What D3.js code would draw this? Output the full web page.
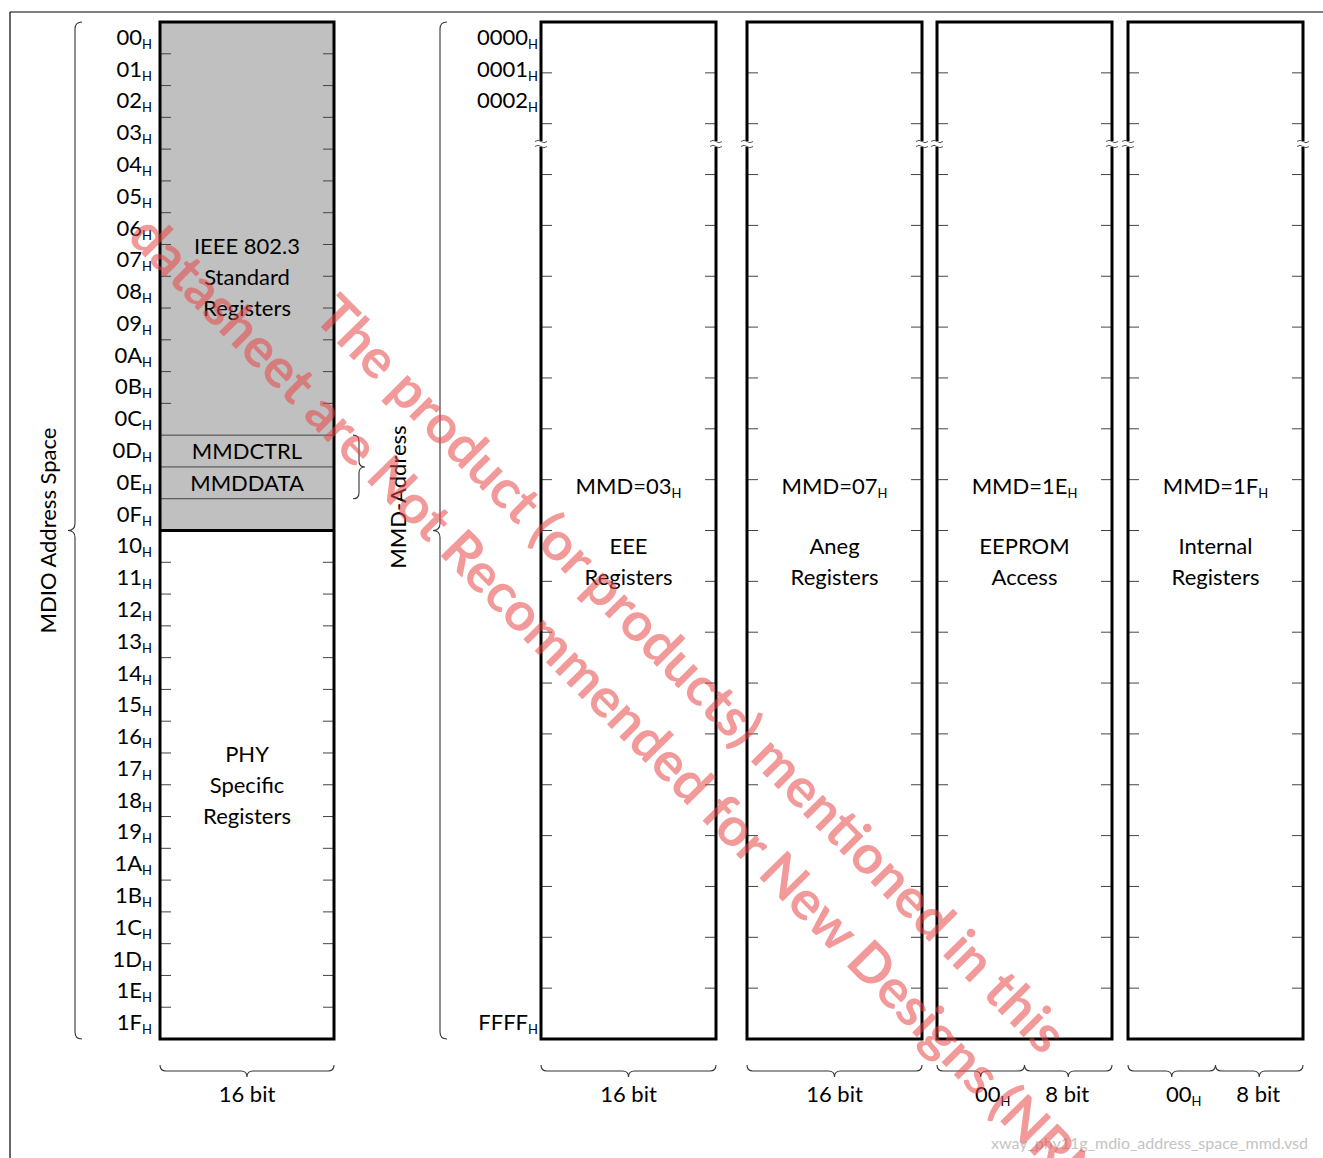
<!DOCTYPE html>
<html><head><meta charset="utf-8">
<script src="https://cdn.jsdelivr.net/npm/d3@7"></script>
<style>body{margin:0;background:#fff} svg{display:block} text{font-family:Lato,"Open Sans",sans-serif;fill:#000}</style>
</head><body>
<svg id="c" width="1323" height="1158"></svg>
<script>
// ---------- data ----------
const mdioRegs = d3.range(32).map(i => i.toString(16).toUpperCase().padStart(2, "0"));
const ieeeRows = 16;                       // rows 00..0F are IEEE standard (gray)
const mmdAccessRows = [{row: 13, label: "MMDCTRL"}, {row: 14, label: "MMDDATA"}];
const ieeeLines = ["IEEE 802.3", "Standard", "Registers"];
const phyLines = ["PHY", "Specific", "Registers"];
const mmdAddrFirst = ["0000", "0001", "0002"];
const mmdAddrLast = "FFFF";
const mmdIds = ["03", "07", "1E", "1F"];
const mmdDesc = [["EEE", "Registers"], ["Aneg", "Registers"], ["EEPROM", "Access"], ["Internal", "Registers"]];
const mmdWidths = [["16 bit"], ["16 bit"], ["00", "8 bit"], ["00", "8 bit"]];
const mdioWidth = "16 bit";
const mmdSegments = 20;
const footer = "xway_phy11g_mdio_address_space_mmd.vsd";
const watermark = ["The product (or products) mentioned in this", "datasheet are Not Recommended for New Designs (NRND)"];

(function () {
// ---------- layout ----------
const svg = d3.select("#c");
const yTop = 22, yBot = 1039;
const yReg = d3.scaleLinear().domain([0, mdioRegs.length]).range([yTop, yBot]);
const yMmd = d3.scaleLinear().domain([0, mmdSegments]).range([yTop, yBot]);
const blockW = 175;
const mdioX = 160;
const mmdX = d3.scaleOrdinal().domain(mmdIds).range([541, 747, 937, 1128]);
const FS = 22, SUB = 13;

function subText(g, x, y, main, sub, anchor) {
  const t = g.append("text").attr("x", x).attr("y", y).attr("text-anchor", anchor).attr("font-size", FS);
  t.append("tspan").text(main);
  if (sub) t.append("tspan").attr("font-size", SUB).attr("dy", 4).text(sub);
  return t;
}
function vBrace(x, y0, y1, dir, c) {
  const ym = (y0 + y1) / 2;
  return `M${x - dir * c},${y0} Q${x},${y0} ${x},${y0 + c} L${x},${ym - c} Q${x},${ym} ${x + dir * c},${ym} Q${x},${ym} ${x},${ym + c} L${x},${y1 - c} Q${x},${y1} ${x - dir * c},${y1}`;
}
function hBrace(x0, x1, y, c) {
  const xm = (x0 + x1) / 2;
  return `M${x0},${y - c} Q${x0},${y} ${x0 + c},${y} L${xm - c},${y} Q${xm},${y} ${xm},${y + c} Q${xm},${y} ${xm + c},${y} L${x1 - c},${y} Q${x1},${y} ${x1},${y - c}`;
}
const braceStyle = p => p.attr("fill", "none").attr("stroke", "#333").attr("stroke-width", 1.1);

// frame
svg.append("line").attr("x1", 10).attr("x2", 1323).attr("y1", 12).attr("y2", 12).attr("stroke", "#000").attr("stroke-width", 1.2);
svg.append("line").attr("x1", 10).attr("x2", 10).attr("y1", 12).attr("y2", 1158).attr("stroke", "#000").attr("stroke-width", 1.2);

// ---------- MDIO block ----------
const gL = svg.append("g");
gL.append("rect").attr("x", mdioX).attr("y", yReg(0)).attr("width", blockW - 1).attr("height", yReg(ieeeRows) - yReg(0)).attr("fill", "#c0c0c0");
const accessBounds = new Set();
mmdAccessRows.forEach(d => { accessBounds.add(d.row); accessBounds.add(d.row + 1); });
d3.range(1, mdioRegs.length).forEach(i => {
  const y = yReg(i);
  if (i === ieeeRows) return;
  if (accessBounds.has(i)) {
    gL.append("line").attr("x1", mdioX).attr("x2", mdioX + blockW - 1).attr("y1", y).attr("y2", y).attr("stroke", "#444").attr("stroke-width", 1);
  } else {
    gL.append("line").attr("x1", mdioX).attr("x2", mdioX + 11).attr("y1", y).attr("y2", y).attr("stroke", "#444").attr("stroke-width", 1);
    gL.append("line").attr("x1", mdioX + blockW - 12).attr("x2", mdioX + blockW - 1).attr("y1", y).attr("y2", y).attr("stroke", "#444").attr("stroke-width", 1);
  }
});
gL.append("line").attr("x1", mdioX).attr("x2", mdioX + blockW - 1).attr("y1", yReg(ieeeRows)).attr("y2", yReg(ieeeRows)).attr("stroke", "#000").attr("stroke-width", 3);
gL.append("rect").attr("x", mdioX).attr("y", yReg(0)).attr("width", blockW - 1).attr("height", yReg(mdioRegs.length) - yReg(0)).attr("fill", "none").attr("stroke", "#000").attr("stroke-width", 3);
mdioRegs.forEach((r, i) => subText(gL, 152, (yReg(i) + yReg(i + 1)) / 2 + 7, r, "H", "end"));
mmdAccessRows.forEach(d => gL.append("text").attr("x", mdioX + 87).attr("y", (yReg(d.row) + yReg(d.row + 1)) / 2 + 8).attr("text-anchor", "middle").attr("font-size", FS).text(d.label));
ieeeLines.forEach((t, i) => gL.append("text").attr("x", mdioX + 87).attr("y", 254 + i * 31).attr("text-anchor", "middle").attr("font-size", FS).text(t));
phyLines.forEach((t, i) => gL.append("text").attr("x", mdioX + 87).attr("y", 762 + i * 31).attr("text-anchor", "middle").attr("font-size", FS).text(t));
// braces
braceStyle(svg.append("path").attr("d", vBrace(75, yTop, yBot, -1, 7)));
svg.append("text").attr("transform", `translate(56,${(yTop + yBot) / 2}) rotate(-90)`).attr("text-anchor", "middle").attr("font-size", FS).text("MDIO Address Space");
braceStyle(svg.append("path").attr("d", vBrace(359, yReg(13), yReg(15), 1, 6)));
svg.append("text").attr("transform", `translate(406,497) rotate(-90)`).attr("text-anchor", "middle").attr("font-size", FS).text("MMD-Address");
braceStyle(svg.append("path").attr("d", vBrace(440, yTop, yBot, -1, 7)));
braceStyle(svg.append("path").attr("d", hBrace(mdioX, mdioX + blockW - 1, 1071, 6)));
svg.append("text").attr("x", mdioX + 87).attr("y", 1102).attr("text-anchor", "middle").attr("font-size", FS).text(mdioWidth);

mmdAddrFirst.forEach((a, i) => subText(svg, 538, (yReg(i) + yReg(i + 1)) / 2 + 7, a, "H", "end"));
subText(svg, 538, (yReg(31) + yReg(32)) / 2 + 7, mmdAddrLast, "H", "end");

// ---------- MMD blocks ----------
const breakY = 144;
mmdIds.forEach((id, ci) => {
  const x0 = mmdX(id), x1 = x0 + blockW;
  const g = svg.append("g");
  d3.range(1, mmdSegments).forEach(k => {
    const y = yMmd(k);
    g.append("line").attr("x1", x0).attr("x2", x0 + 11).attr("y1", y).attr("y2", y).attr("stroke", "#444").attr("stroke-width", 1);
    g.append("line").attr("x1", x1 - 11).attr("x2", x1).attr("y1", y).attr("y2", y).attr("stroke", "#444").attr("stroke-width", 1);
  });
  g.append("rect").attr("x", x0).attr("y", yTop).attr("width", blockW).attr("height", yBot - yTop).attr("fill", "none").attr("stroke", "#000").attr("stroke-width", 3);
  [x0, x1].forEach(x => {
    g.append("rect").attr("x", x - 3).attr("y", breakY - 3).attr("width", 6).attr("height", 6).attr("fill", "#fff");
    [-2.5, 2.5].forEach(o => g.append("path").attr("d", `M${x - 6},${breakY + o} q3,-2.5 6,0 t6,0`).attr("fill", "none").attr("stroke", "#555").attr("stroke-width", 1));
  });
  const cx = x0 + blockW / 2;
  subText(g, cx, 494, "MMD=" + id, "H", "middle");
  mmdDesc[ci].forEach((t, i) => g.append("text").attr("x", cx).attr("y", 554 + i * 31).attr("text-anchor", "middle").attr("font-size", FS).text(t));
  const w = mmdWidths[ci];
  if (w.length === 1) {
    braceStyle(g.append("path").attr("d", hBrace(x0, x1, 1071, 6)));
    g.append("text").attr("x", cx).attr("y", 1102).attr("text-anchor", "middle").attr("font-size", FS).text(w[0]);
  } else {
    braceStyle(g.append("path").attr("d", hBrace(x0, cx, 1071, 6)));
    braceStyle(g.append("path").attr("d", hBrace(cx, x1, 1071, 6)));
    subText(g, (x0 + cx) / 2 + 12, 1102, w[0], "H", "middle");
    g.append("text").attr("x", (cx + x1) / 2 - 1).attr("y", 1102).attr("text-anchor", "middle").attr("font-size", FS).text(w[1]);
  }
});

svg.append("text").attr("x", 1308).attr("y", 1149).attr("text-anchor", "end").attr("font-size", 16).style("fill", "#c4c4c4").text(footer);

const wm = svg.append("g").attr("opacity", 0.55);
[[312, 318], [126, 238]].forEach((p, i) => {
  wm.append("text").attr("transform", `translate(${p[0]},${p[1]}) rotate(45.3)`)
    .attr("font-family", "'Liberation Sans', Arial, sans-serif").attr("font-weight", "bold").attr("font-size", 54)
    .style("fill", "rgb(232,70,70)").text(watermark[i]);
});
})();
</script>
</body></html>
